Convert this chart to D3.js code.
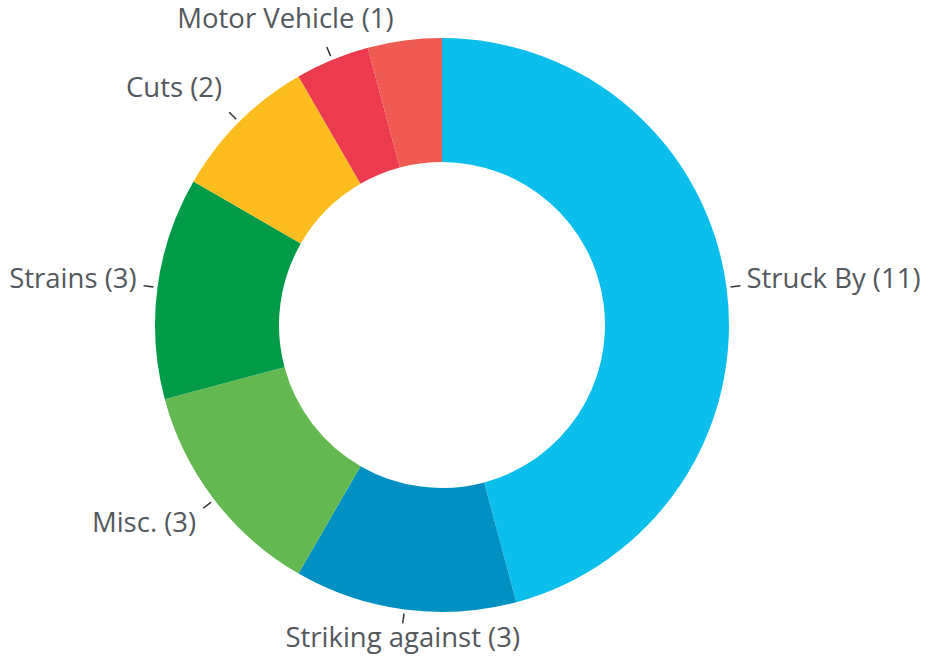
<!DOCTYPE html>
<html>
<head>
<meta charset="utf-8">
<script src="https://cdn.jsdelivr.net/npm/d3@7"></script>
<style>
  html, body { margin: 0; padding: 0; background: #fff; }
  svg text { font-family: "Open Sans", sans-serif; }
</style>
</head>
<body>
<div id="grafico"></div>
<script>
// datos del gráfico
const CATEGORIAS = ["Struck By", "Striking against", "Misc.", "Strains", "Cuts", "Motor Vehicle", "Other"];
const VALORES = [11, 3, 3, 3, 2, 1, 1];
const MOSTRAR_ETIQUETA = [true, true, true, true, true, true, false];
const COLORES = ["#0BBEEC", "#0091C2", "#63B84F", "#009B48", "#FDBD1F", "#EC3A4E", "#EF5A52"];

const WIDTH_VIS = 936;
const HEIGHT_VIS = 660;
const CENTRO_X = 442;
const CENTRO_Y = 325;
const RADIO_EXT = 287;
const RADIO_INT = 163;

const SVG = d3.select("#grafico").append("svg")
    .attr("width", WIDTH_VIS).attr("height", HEIGHT_VIS);

const datos = CATEGORIAS.map((c, i) => ({ nombre: c, valor: VALORES[i], color: COLORES[i], etiqueta: MOSTRAR_ETIQUETA[i] }));

const pie = d3.pie().value(d => d.valor).sort(null);
const arco = d3.arc().innerRadius(RADIO_INT).outerRadius(RADIO_EXT);

const grafico = SVG.append("g").attr("transform", "translate(" + CENTRO_X + "," + CENTRO_Y + ")");

grafico.selectAll("path")
    .data(pie(datos))
    .enter().append("path")
    .attr("d", arco)
    .attr("fill", d => d.data.color);

// etiquetas con pequeña línea guía
const punto = (ang, r) => [Math.sin(ang) * r, -Math.cos(ang) * r];

const etiquetas = grafico.selectAll(".etiqueta")
    .data(pie(datos).filter(d => d.data.etiqueta))
    .enter().append("g")
    .attr("class", "etiqueta");

etiquetas.each(function(d) {
    const g = d3.select(this);
    const ang = (d.startAngle + d.endAngle) / 2;
    const s = Math.sin(ang), c = Math.cos(ang);
    const p1 = punto(ang, RADIO_EXT + 4);
    const p2 = punto(ang, RADIO_EXT + 14);

    g.append("line")
        .attr("x1", p1[0]).attr("y1", p1[1])
        .attr("x2", p2[0]).attr("y2", p2[1])
        .attr("stroke", "#333")
        .attr("stroke-width", 1.5);

    const texto = g.append("text")
        .attr("font-size", 27.5)
        .attr("fill", "#53585d")
        .text(d.data.nombre + " (" + d.data.valor + ")");

    const ancho = texto.node().getComputedTextLength();
    let x;
    if (s > 0.5) x = p2[0] + 6;
    else if (s < -0.5) x = p2[0] - 7 - ancho;
    else if (Math.abs(s) < 0.2) x = p2[0] - ancho / 2;
    else x = p2[0] - ancho * (1 - s) / 2;

    const dy = Math.max(-19, Math.min(24, 6 - 30 * c));
    texto.attr("x", x).attr("y", p2[1] + dy);
});
</script>
</body>
</html>
